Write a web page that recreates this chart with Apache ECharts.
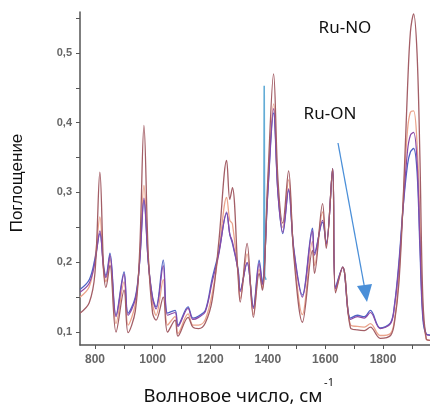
<!DOCTYPE html>
<html>
<head>
<meta charset="utf-8">
<script src="https://cdn.jsdelivr.net/npm/echarts@6/dist/echarts.min.js"></script>
<style>
  html, body { margin: 0; padding: 0; background: #fff; }
  #chart { width: 430px; height: 409px; }
</style>
</head>
<body>
<div id="chart"></div>
<script>
// волновые числа, см-1
var wavenumbers = [748, 780, 800, 817, 830, 838, 852, 873, 901, 915, 940, 955, 970, 985,
  1000, 1012, 1037, 1052, 1078, 1088, 1123, 1140, 1160, 1183, 1207, 1230, 1257, 1268, 1277,
  1297, 1304, 1328, 1350, 1370, 1381, 1400, 1420, 1435, 1452, 1472, 1490, 1520, 1555, 1562,
  1590, 1603, 1625, 1635, 1660, 1687, 1711, 1735, 1756, 1790, 1826, 1840, 1855, 1870, 1885,
  1895, 1906, 1918, 1928, 1938, 1950, 1963];

var blueLine = [0.161, 0.175, 0.205, 0.241, 0.195, 0.181, 0.213, 0.124, 0.186, 0.127, 0.150, 0.200, 0.289, 0.200,
  0.150, 0.136, 0.203, 0.127, 0.131, 0.110, 0.136, 0.120, 0.123, 0.131, 0.177, 0.215, 0.270, 0.240, 0.227,
  0.189, 0.160, 0.199, 0.136, 0.203, 0.170, 0.300, 0.414, 0.300, 0.241, 0.303, 0.220, 0.153, 0.249, 0.213,
  0.257, 0.227, 0.334, 0.164, 0.193, 0.120, 0.124, 0.122, 0.131, 0.106, 0.113, 0.140, 0.200, 0.280, 0.340,
  0.358, 0.363, 0.330, 0.220, 0.120, 0.097, 0.096];

var purpleLine = [0.157, 0.170, 0.200, 0.245, 0.190, 0.178, 0.210, 0.122, 0.183, 0.124, 0.147, 0.200, 0.292, 0.200,
  0.148, 0.133, 0.195, 0.124, 0.128, 0.108, 0.134, 0.118, 0.121, 0.129, 0.172, 0.212, 0.272, 0.240, 0.230,
  0.187, 0.158, 0.200, 0.134, 0.198, 0.168, 0.300, 0.420, 0.300, 0.243, 0.305, 0.218, 0.150, 0.245, 0.210,
  0.260, 0.226, 0.334, 0.162, 0.193, 0.118, 0.122, 0.120, 0.128, 0.105, 0.112, 0.138, 0.195, 0.280, 0.360,
  0.382, 0.386, 0.345, 0.230, 0.125, 0.097, 0.095];

var salmonLine = [0.150, 0.165, 0.205, 0.265, 0.185, 0.172, 0.205, 0.112, 0.172, 0.110, 0.140, 0.205, 0.310, 0.205,
  0.140, 0.124, 0.175, 0.110, 0.122, 0.098, 0.126, 0.110, 0.110, 0.118, 0.155, 0.215, 0.293, 0.260, 0.255,
  0.182, 0.148, 0.212, 0.125, 0.190, 0.163, 0.310, 0.427, 0.305, 0.250, 0.318, 0.215, 0.125, 0.230, 0.195,
  0.272, 0.223, 0.334, 0.158, 0.193, 0.110, 0.108, 0.107, 0.112, 0.095, 0.098, 0.118, 0.180, 0.290, 0.390,
  0.415, 0.417, 0.370, 0.260, 0.130, 0.090, 0.088];

var brownLine = [0.127, 0.142, 0.185, 0.329, 0.190, 0.164, 0.196, 0.100, 0.160, 0.099, 0.130, 0.215, 0.396, 0.210,
  0.127, 0.117, 0.150, 0.100, 0.117, 0.094, 0.121, 0.107, 0.105, 0.113, 0.146, 0.230, 0.346, 0.290, 0.307,
  0.179, 0.143, 0.227, 0.121, 0.184, 0.160, 0.320, 0.470, 0.320, 0.256, 0.331, 0.210, 0.114, 0.217, 0.184,
  0.284, 0.220, 0.334, 0.156, 0.193, 0.106, 0.103, 0.102, 0.107, 0.091, 0.095, 0.115, 0.170, 0.290, 0.450,
  0.530, 0.556, 0.500, 0.350, 0.150, 0.090, 0.088];

// узкий пик (голубая линия)
var spikeX = [1381, 1386, 1387.5, 1389, 1394];
var spikeY = [0.170, 0.180, 0.453, 0.180, 0.175];

var xTicks = [800, 900, 1000, 1100, 1200, 1300, 1400, 1500, 1600, 1700, 1800, 1900];
var xLabels = [800, 1000, 1200, 1400, 1600, 1800];
var yTicks = [0.1, 0.15, 0.2, 0.25, 0.3, 0.35, 0.4, 0.45, 0.5, 0.55];
var yLabels = [0.1, 0.2, 0.3, 0.4, 0.5];

function pairs(xs, ys) {
  return xs.map(function (x, i) { return [x, ys[i]]; });
}

function lineSeries(name, ys, color, width, smooth) {
  return {
    name: name,
    type: "line",
    data: pairs(wavenumbers, ys),
    showSymbol: false,
    smooth: smooth,
    lineStyle: { color: color, width: width },
    z: 2
  };
}

var myChart = echarts.init(document.getElementById("chart"));

var option = {
  backgroundColor: "#fff",
  animation: false,
  grid: { left: 80, top: 12, right: 0, bottom: 64 },
  xAxis: {
    type: "value",
    min: 748,
    max: 1963,
    axisLine: { show: true, lineStyle: { color: "#555", width: 1.5 } },
    axisTick: { show: true, customValues: xTicks, length: 4, lineStyle: { color: "#555" } },
    axisLabel: {
      customValues: xLabels,
      color: "#666",
      fontSize: 12,
      fontWeight: "bold",
      fontFamily: "Liberation Sans",
      margin: 9,
      formatter: function (v) { return String(v); }
    },
    splitLine: { show: false }
  },
  yAxis: {
    type: "value",
    min: 0.0814,
    max: 0.5586,
    axisLine: { show: true, lineStyle: { color: "#555", width: 1.5 } },
    axisTick: { show: true, customValues: yTicks, length: 4, lineStyle: { color: "#555" } },
    axisLabel: {
      customValues: yLabels,
      color: "#666",
      fontSize: 11,
      fontWeight: "bold",
      fontFamily: "Liberation Sans",
      margin: 8,
      formatter: function (v) { return v.toFixed(1).replace(".", ","); }
    },
    splitLine: { show: false }
  },
  series: [
    {
      name: "spike",
      type: "line",
      data: pairs(spikeX, spikeY),
      showSymbol: false,
      lineStyle: { color: "#63acd6", width: 1.6 },
      z: 1
    },
    lineSeries("salmon", salmonLine, "#eba48c", 1.3, 0.35),
    lineSeries("blue", blueLine, "#4f63c4", 1.3, 0.35),
    lineSeries("purple", purpleLine, "#8a48a6", 1.2, 0.35),
    lineSeries("brown", brownLine, "#a35e66", 1.3, 0.35)
  ],
  graphic: [
    {
      type: "text",
      x: 17,
      y: 183,
      rotation: Math.PI / 2,
      style: {
        text: "Поглощение",
        font: "17px 'Liberation Sans'",
        fill: "#111",
        align: "center",
        verticalAlign: "middle"
      }
    },
    {
      type: "text",
      x: 233,
      y: 397,
      style: {
        text: "Волновое число, см",
        font: "18.5px 'Noto Sans'",
        fill: "#111",
        align: "center",
        verticalAlign: "middle"
      }
    },
    {
      type: "text",
      x: 329,
      y: 383,
      style: {
        text: "-1",
        font: "11px 'Noto Sans'",
        fill: "#111",
        align: "center",
        verticalAlign: "middle"
      }
    },
    {
      type: "text",
      x: 345,
      y: 28,
      style: {
        text: "Ru-NO",
        font: "17px 'Noto Sans'",
        fill: "#111",
        align: "center",
        verticalAlign: "middle"
      }
    },
    {
      type: "text",
      x: 330,
      y: 114,
      style: {
        text: "Ru-ON",
        font: "17px 'Noto Sans'",
        fill: "#111",
        align: "center",
        verticalAlign: "middle"
      }
    },
    {
      type: "line",
      shape: { x1: 338, y1: 143, x2: 365, y2: 290 },
      style: { stroke: "#4a8fd8", lineWidth: 1.3 }
    },
    {
      type: "polygon",
      shape: { points: [[357, 286], [372, 284], [367, 302]] },
      style: { fill: "#4a8fd8" }
    }
  ]
};

myChart.setOption(option);
</script>
</body>
</html>
